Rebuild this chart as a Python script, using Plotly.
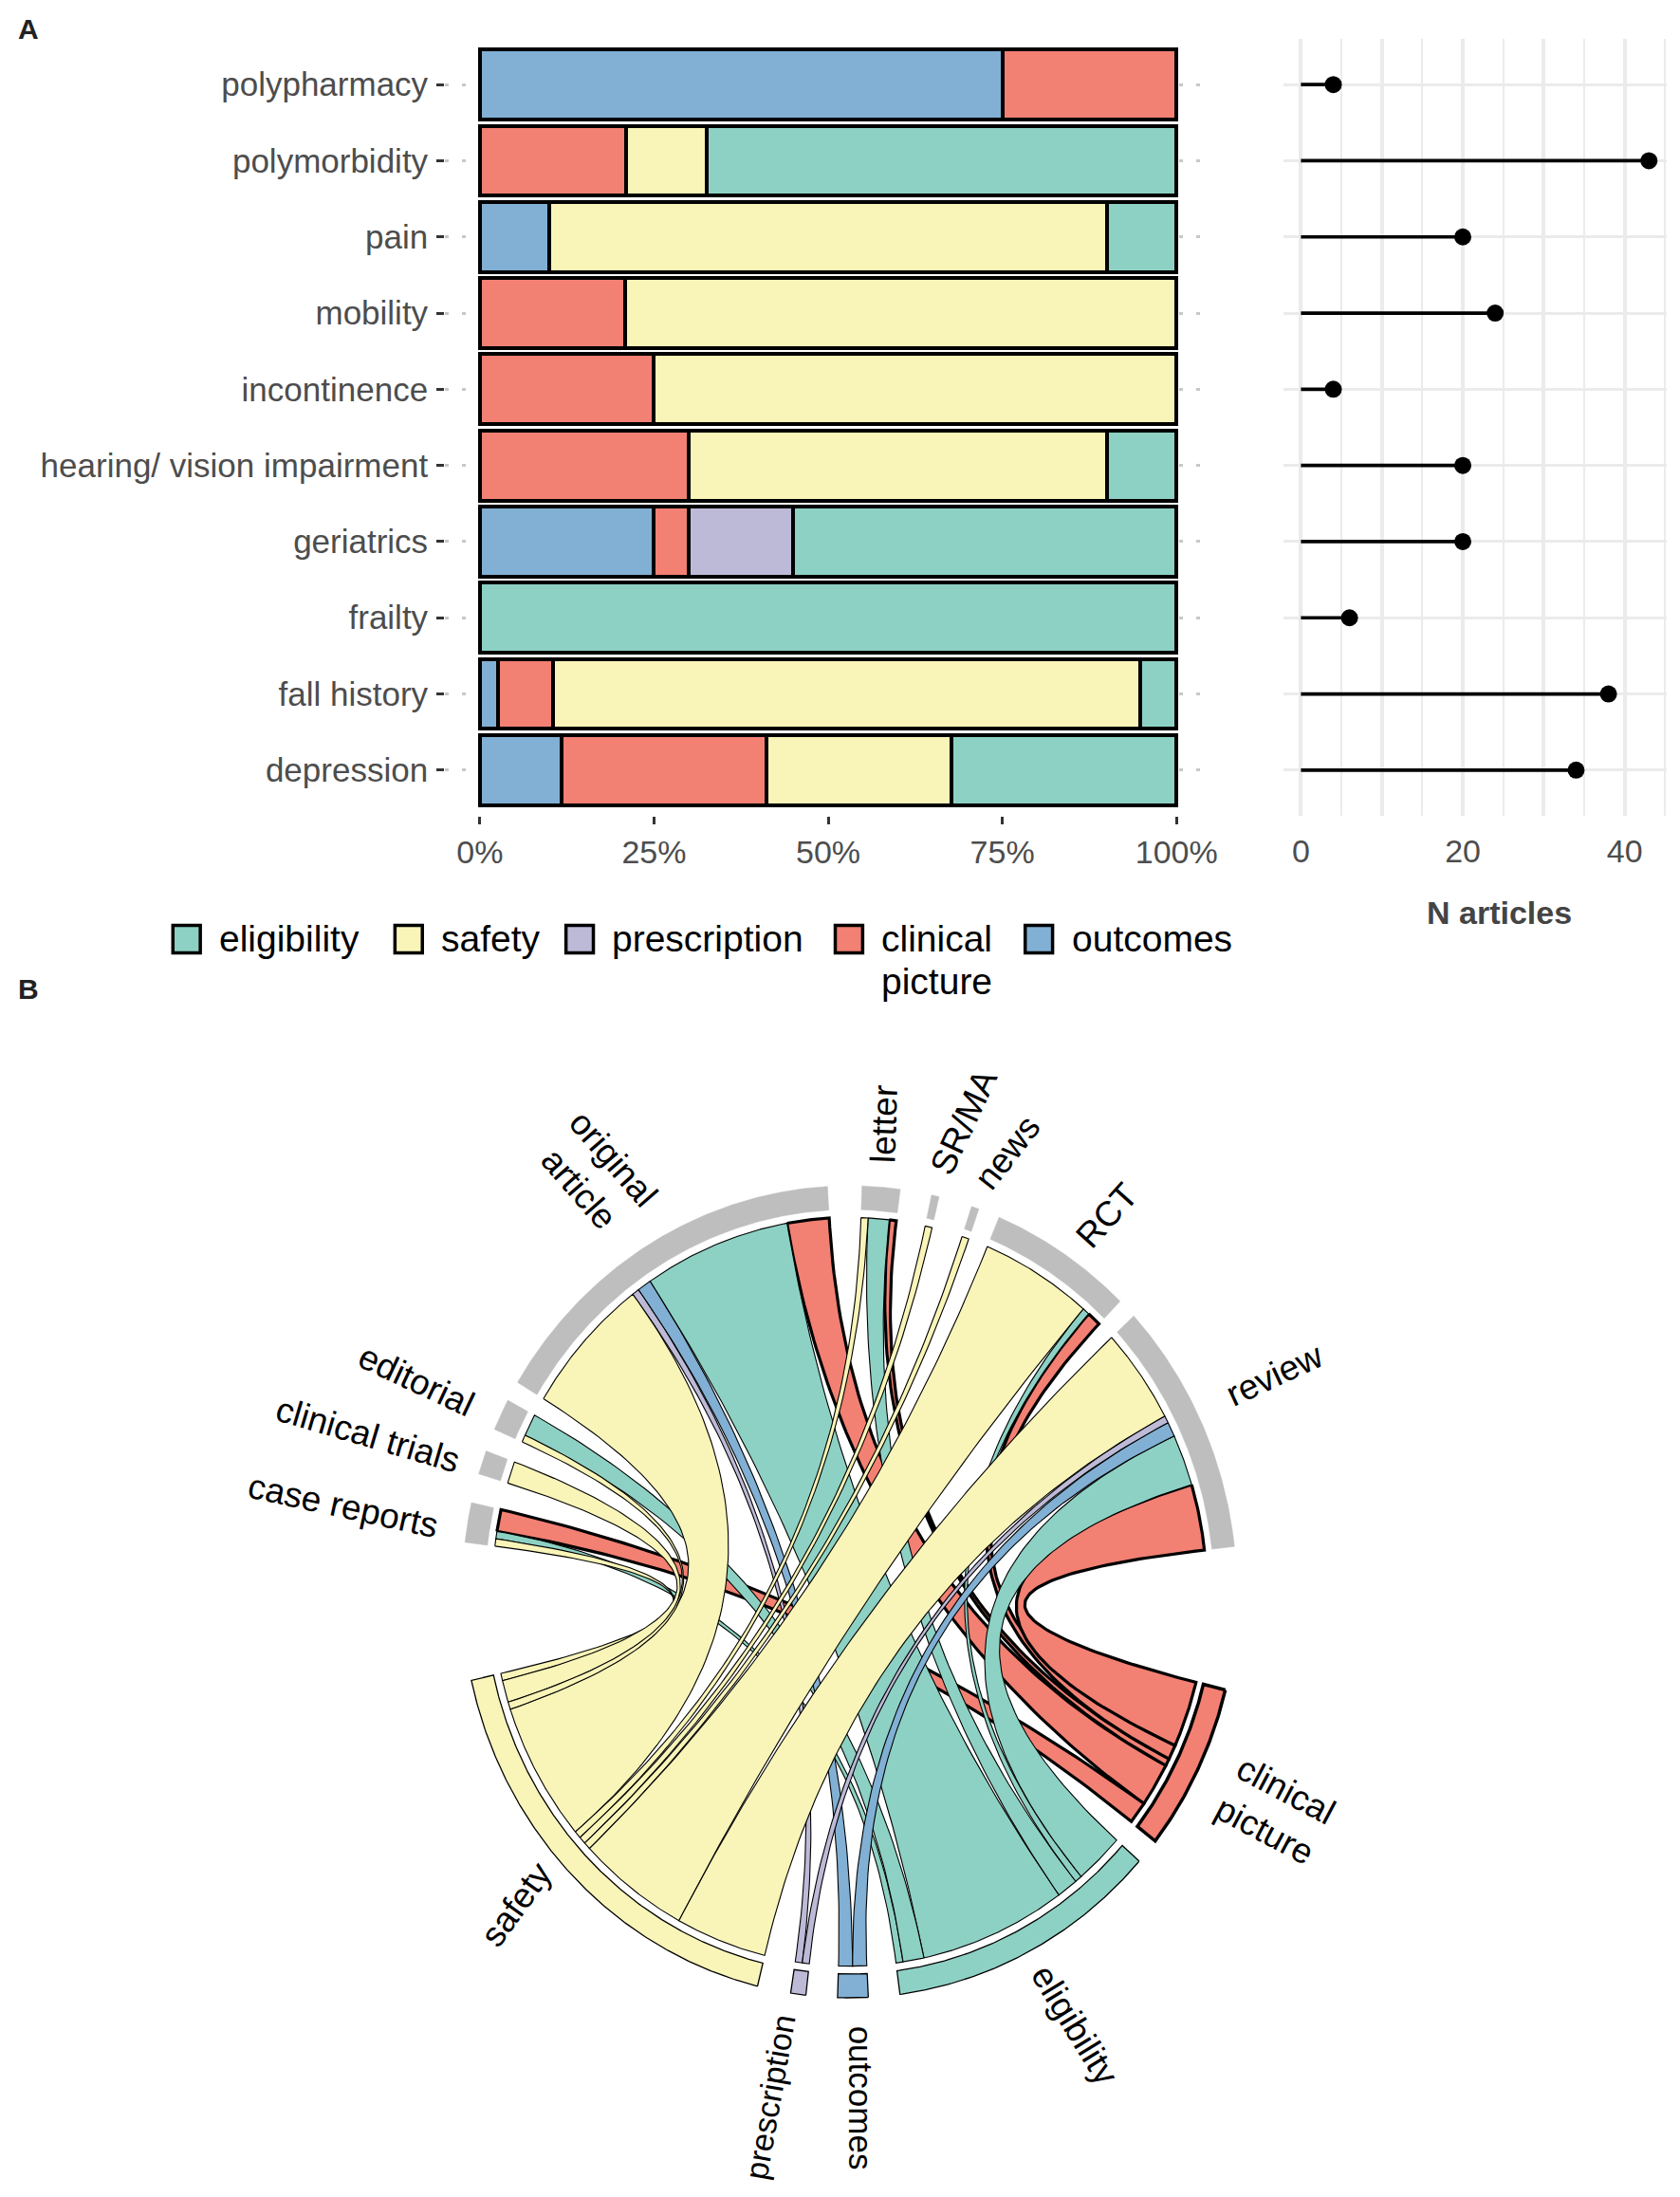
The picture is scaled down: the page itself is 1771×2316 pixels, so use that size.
import math
import numpy as np
import plotly.graph_objects as go

W, H = 1771, 2316
FONT = "Liberation Sans, Arial, Helvetica, sans-serif"

# ---------------- Panel A data ----------------
conditions = ["polypharmacy", "polymorbidity", "pain", "mobility", "incontinence",
              "hearing/ vision impairment", "geriatrics", "frailty", "fall history", "depression"]
n_outcomes     = [3, 0, 2, 0, 0, 0, 5, 0, 1, 4]
n_clinical     = [1, 9, 0, 5, 1, 6, 1, 0, 3, 10]
n_prescription = [0, 0, 0, 0, 0, 0, 3, 0, 0, 0]
n_safety       = [0, 5, 16, 19, 3, 12, 0, 0, 32, 9]
n_eligibility  = [0, 29, 2, 0, 0, 2, 11, 6, 2, 11]
n_articles     = [4, 43, 20, 24, 4, 20, 20, 6, 38, 34]

pct_ticks = [0, 0.25, 0.5, 0.75, 1.0]
pct_labels = ["0%", "25%", "50%", "75%", "100%"]
n_major = [0, 10, 20, 30, 40]
n_major_labels = ["0", "", "20", "", "40"]
n_minor = [5, 15, 25, 35, 45]

legend_order = ["eligibility", "safety", "prescription", "clinical picture", "outcomes"]
legend_text = ["eligibility", "safety", "prescription", "clinical", "outcomes"]

colors = {
    "eligibility": "#8DD1C4",
    "safety": "#F9F4B8",
    "prescription": "#BDBAD8",
    "clinical picture": "#F28073",
    "outcomes": "#81B0D4",
}

# ---------------- Panel B data (chord) ----------------
article_types = ["original article", "letter", "SR/MA", "news", "RCT", "review",
                 "case reports", "clinical trials", "editorial"]
chord_clinical     = [6, 1, 0, 0, 2, 9, 3, 0, 0]
chord_eligibility  = [21, 3, 0, 0, 1, 7, 1, 0, 3]
chord_outcomes     = [2, 0, 0, 0, 0, 2, 0, 0, 0]
chord_prescription = [1, 0, 0, 0, 0, 1, 0, 0, 0]
chord_safety       = [19, 1, 1, 1, 16, 13, 1, 3, 1]

chord_categories = ["clinical picture", "eligibility", "outcomes", "prescription", "safety"]
chord_values = [chord_clinical, chord_eligibility, chord_outcomes, chord_prescription, chord_safety]

sector_order = ["original article", "letter", "SR/MA", "news", "RCT", "review",
                "clinical picture", "eligibility", "outcomes", "prescription", "safety",
                "case reports", "clinical trials", "editorial"]
gap_after = {"original article": 5.1, "letter": 4.7, "SR/MA": 5.0, "news": 3.2, "RCT": 2.9,
             "review": 20.4, "clinical picture": 3.7, "eligibility": 4.7, "outcomes": 4.7,
             "prescription": 5.0, "safety": 19.6, "case reports": 4.2, "clinical trials": 3.3,
             "editorial": 2.9}
FIRST_SECTOR, FIRST_START = "clinical picture", -14.0

# label styling (direction of text in screen degrees, start radius, angular shift)
chord_label_text = {"original article": "original<br>article", "clinical picture": "clinical<br>picture"}
label_dir = {"original article": 131, "letter": 88, "SR/MA": 65, "news": 52, "RCT": 48,
             "review": 25, "clinical picture": -28, "eligibility": -58.6, "outcomes": -90,
             "prescription": -100, "safety": -126, "case reports": 167.7,
             "clinical trials": 163.6, "editorial": 154.8}
label_r0 = {"original article": 1.08, "clinical picture": 1.09, "eligibility": 1.05,
            "outcomes": 1.07, "review": 1.09, "case reports": 1.075, "editorial": 1.075,
            "safety": 1.04, "RCT": 1.05, "prescription": 1.055}
label_shift = {"review": 1.6, "safety": -3.8, "RCT": -1.5, "outcomes": 1.0, "prescription": -1.5,
               "case reports": 1.2, "clinical trials": 1.0, "editorial": 0.8}
label_size = {"prescription": 34, "outcomes": 35}
CH_FONT = 37

# ---------------- geometry (pixels) ----------------
BAR_X0, BAR_X1 = 471, 1282
LOL_X0, LOL_X1 = 1358, 1764
PAN_TOP, PAN_BOT = 41, 860
CX, CY, RX, RY = 899, 1678, 410, 428
R_LINK, R_TIN, R_TOUT = 0.922, 0.9415, 1.0
R_LABEL = 1.06


def px(x):
    return x / W


def py(y):
    return 1 - y / H


CW = {'a': .556, 'b': .556, 'c': .5, 'd': .556, 'e': .556, 'f': .278, 'g': .556, 'h': .556,
      'i': .222, 'j': .222, 'k': .5, 'l': .222, 'm': .833, 'n': .556, 'o': .556, 'p': .556,
      'q': .556, 'r': .333, 's': .5, 't': .278, 'u': .556, 'v': .5, 'w': .722, 'x': .5,
      'y': .5, 'z': .5, ' ': .278, '/': .278, 'R': .722, 'C': .722, 'T': .611, 'S': .667,
      'M': .833, 'A': .667}


def text_w(s, size):
    return max(sum(CW.get(c, .556) for c in line) for line in s.split("<br>")) * size


fig = go.Figure()

# ---------------- Panel A: stacked proportion bars ----------------
totals = [a + b + c + d + e for a, b, c, d, e in
          zip(n_outcomes, n_clinical, n_prescription, n_safety, n_eligibility)]
stack = [("outcomes", n_outcomes), ("clinical picture", n_clinical),
         ("prescription", n_prescription), ("safety", n_safety), ("eligibility", n_eligibility)]
for name, vals in stack:
    frac = [(v / t if v > 0 else None) for v, t in zip(vals, totals)]
    fig.add_trace(go.Bar(y=conditions, x=frac, orientation="h", name=name,
                         marker=dict(color=colors[name], line=dict(color="black", width=4)),
                         xaxis="x", yaxis="y", showlegend=False, hoverinfo="skip"))

# ---------------- Panel A: lollipop ----------------
seg_x, seg_y = [], []
for c, n in zip(conditions, n_articles):
    seg_x += [0, n, None]
    seg_y += [c, c, None]
fig.add_trace(go.Scatter(x=seg_x, y=seg_y, mode="lines", line=dict(color="black", width=3.7),
                         xaxis="x2", yaxis="y2", showlegend=False, hoverinfo="skip"))
fig.add_trace(go.Scatter(x=n_articles, y=conditions, mode="markers",
                         marker=dict(color="black", size=18),
                         xaxis="x2", yaxis="y2", showlegend=False, hoverinfo="skip"))

# ---------------- Panel B: chord diagram ----------------
sector_total = {}
for i, a in enumerate(article_types):
    sector_total[a] = sum(v[i] for v in chord_values)
for cat, vals in zip(chord_categories, chord_values):
    sector_total[cat] = sum(vals)

unit = (360 - sum(gap_after.values())) / sum(sector_total.values())

k0 = sector_order.index(FIRST_SECTOR)
rot = sector_order[k0:] + sector_order[:k0]
sec_start, sec_end = {}, {}
ang = FIRST_START
for s in rot:
    sec_start[s] = ang
    sec_end[s] = ang - sector_total[s] * unit
    ang = sec_end[s] - gap_after[s]
sec_mid = {s: (sec_start[s] + sec_end[s]) / 2 for s in sector_order}

links = []  # (article, category, value)
for cat, vals in zip(chord_categories, chord_values):
    for a, v in zip(article_types, vals):
        if v > 0:
            links.append((a, cat, v))

# allocate link positions inside each sector (non-crossing order)
alloc = {}
for s in sector_order:
    mine = [(l, (l[1] if l[0] == s else l[0])) for l in links if s in (l[0], l[1])]
    mine.sort(key=lambda lp: (sec_mid[lp[1]] - sec_mid[s]) % 360)
    ang = sec_start[s]
    for l, partner in mine:
        alloc[(s, l)] = (ang, ang - l[2] * unit)
        ang -= l[2] * unit


def arc_pts(a0, a1, r):
    n = max(3, int(abs(a1 - a0) * 3) + 3)
    t = np.radians(np.linspace(a0, a1, n))
    return list(r * np.cos(t)), list(r * np.sin(t))


def bez_pts(a0, a1, r):
    p0 = np.array([r * math.cos(math.radians(a0)), r * math.sin(math.radians(a0))])
    p2 = np.array([r * math.cos(math.radians(a1)), r * math.sin(math.radians(a1))])
    t = np.linspace(0, 1, 80)[:, None]
    pts = (1 - t) ** 2 * p0 + t ** 2 * p2
    return list(pts[:, 0]), list(pts[:, 1])


for l in links:
    a, cat, v = l
    as_, ae = alloc[(a, l)]
    bs, be = alloc[(cat, l)]
    xs, ys = [], []
    for seg in (arc_pts(as_, ae, R_LINK), bez_pts(ae, bs, R_LINK),
                arc_pts(bs, be, R_LINK), bez_pts(be, as_, R_LINK)):
        xs += seg[0]
        ys += seg[1]
    lw = 3.2 if cat == "clinical picture" else 1.1
    fig.add_trace(go.Scatter(x=xs, y=ys, mode="lines", fill="toself", fillcolor=colors[cat],
                             line=dict(color="black", width=lw), xaxis="x3", yaxis="y3",
                             showlegend=False, hoverinfo="skip"))

# sector tracks
for s in sector_order:
    ox, oy = arc_pts(sec_start[s], sec_end[s], R_TOUT)
    ix, iy = arc_pts(sec_end[s], sec_start[s], R_TIN)
    xs, ys = ox + ix + [ox[0]], oy + iy + [oy[0]]
    if s in colors:
        lw = 3.5 if s == "clinical picture" else 1.3
        fig.add_trace(go.Scatter(x=xs, y=ys, mode="lines", fill="toself", fillcolor=colors[s],
                                 line=dict(color="black", width=lw), xaxis="x3", yaxis="y3",
                                 showlegend=False, hoverinfo="skip"))
    else:
        fig.add_trace(go.Scatter(x=xs, y=ys, mode="lines", fill="toself", fillcolor="#BEBEBE",
                                 line=dict(color="#BEBEBE", width=0.5), xaxis="x3", yaxis="y3",
                                 showlegend=False, hoverinfo="skip"))

annotations = []
for s in sector_order:
    phi = math.radians(sec_mid[s] + label_shift.get(s, 0))
    r0 = label_r0.get(s, R_LABEL)
    sx = CX + RX * r0 * math.cos(phi)
    sy = CY - RY * r0 * math.sin(phi)
    psi = label_dir[s]
    fs = label_size.get(s, CH_FONT)
    txt = chord_label_text.get(s, s)
    L = text_w(txt, fs)
    pr = math.radians(psi)
    cxp = sx + (L / 2) * math.cos(pr)
    cyp = sy - (L / 2) * math.sin(pr)
    ta = -psi if math.cos(pr) >= -1e-6 else -(psi + 180)
    ta = (ta + 180) % 360 - 180
    annotations.append(dict(x=px(cxp), y=py(cyp), xref="paper", yref="paper", text=txt,
                            showarrow=False, textangle=ta, xanchor="center", yanchor="middle",
                            font=dict(family=FONT, size=fs, color="black"), align="center"))

# ---------------- labels / legend ----------------
annotations.append(dict(x=px(30), y=py(30), xref="paper", yref="paper", text="<b>A</b>",
                        showarrow=False, xanchor="center", yanchor="middle",
                        font=dict(family=FONT, size=30, color="#222")))
annotations.append(dict(x=px(30), y=py(1042), xref="paper", yref="paper", text="<b>B</b>",
                        showarrow=False, xanchor="center", yanchor="middle",
                        font=dict(family=FONT, size=30, color="#222")))
annotations.append(dict(x=px(1587), y=py(962), xref="paper", yref="paper", text="<b>N articles</b>",
                        showarrow=False, xanchor="center", yanchor="middle",
                        font=dict(family=FONT, size=34, color="#444")))

legend_x = [183, 418, 599, 884, 1085]
LEG_Y = 990
shapes = []
for name, lab, lx in zip(legend_order, legend_text, legend_x):
    shapes.append(dict(type="rect", xref="paper", yref="paper", x0=px(lx), x1=px(lx + 29),
                       y0=py(LEG_Y + 14.5), y1=py(LEG_Y - 14.5), fillcolor=colors[name],
                       line=dict(color="black", width=3.5)))
    annotations.append(dict(x=px(lx + 47), y=py(LEG_Y), xref="paper", yref="paper", text=lab,
                            showarrow=False, xanchor="left", yanchor="middle", align="left",
                            font=dict(family=FONT, size=39, color="black")))
    if name == "clinical picture":
        annotations.append(dict(x=px(lx + 47), y=py(LEG_Y + 44), xref="paper", yref="paper",
                                text="picture", showarrow=False, xanchor="left",
                                yanchor="middle", align="left",
                                font=dict(family=FONT, size=39, color="black")))

tickfont = dict(family=FONT, size=35, color="#4D4D4D")
cat_arr = list(reversed(conditions))

fig.update_layout(
    width=W, height=H, margin=dict(l=0, r=0, t=0, b=0),
    paper_bgcolor="white", plot_bgcolor="white",
    barmode="stack", bargap=0.08,
    font=dict(family=FONT),
    xaxis=dict(domain=[px(BAR_X0), px(BAR_X1)], range=[-0.05, 1.05], tickvals=pct_ticks,
               ticktext=pct_labels, ticks="outside", ticklen=8, tickwidth=3, tickcolor="#333",
               showgrid=False, zeroline=False, showline=False,
               tickfont=dict(family=FONT, size=34, color="#4D4D4D"),
               ticklabelstandoff=0, anchor="y"),
    yaxis=dict(domain=[py(PAN_BOT), py(PAN_TOP)], type="category", categoryorder="array",
               categoryarray=cat_arr, range=[-0.6, 9.6], ticks="outside", ticklen=8, tickwidth=3,
               tickcolor="#333", showgrid=True, gridcolor="#C8C8C8", gridwidth=3,
               griddash="4px,14px", zeroline=False, showline=False, tickfont=tickfont,
               ticklabelstandoff=2, anchor="x"),
    xaxis2=dict(domain=[px(LOL_X0), px(LOL_X1)], range=[-2.2, 45.2], tickvals=n_major,
                ticktext=n_major_labels, ticks="", showgrid=True, gridcolor="#EBEBEB",
                gridwidth=4, zeroline=False, showline=False,
                tickfont=dict(family=FONT, size=34, color="#4D4D4D"),
                ticklabelstandoff=14,
                minor=dict(tickvals=n_minor, showgrid=True, gridcolor="#EBEBEB", gridwidth=2),
                anchor="y2"),
    yaxis2=dict(domain=[py(PAN_BOT), py(PAN_TOP)], type="category", categoryorder="array",
                categoryarray=cat_arr, range=[-0.6, 9.6], showticklabels=False, ticks="",
                showgrid=True, gridcolor="#EBEBEB", gridwidth=3, zeroline=False,
                showline=False, anchor="x2"),
    xaxis3=dict(domain=[px(CX - 1.2 * RX), px(CX + 1.2 * RX)], range=[-1.2, 1.2], visible=False,
                anchor="y3"),
    yaxis3=dict(domain=[py(CY + 1.2 * RY), py(CY - 1.2 * RY)], range=[-1.2, 1.2], visible=False,
                anchor="x3"),
    annotations=annotations, shapes=shapes,
)

fig.write_html("out.html", config={"displayModeBar": False},
               post_script="document.body.style.margin='0';")
